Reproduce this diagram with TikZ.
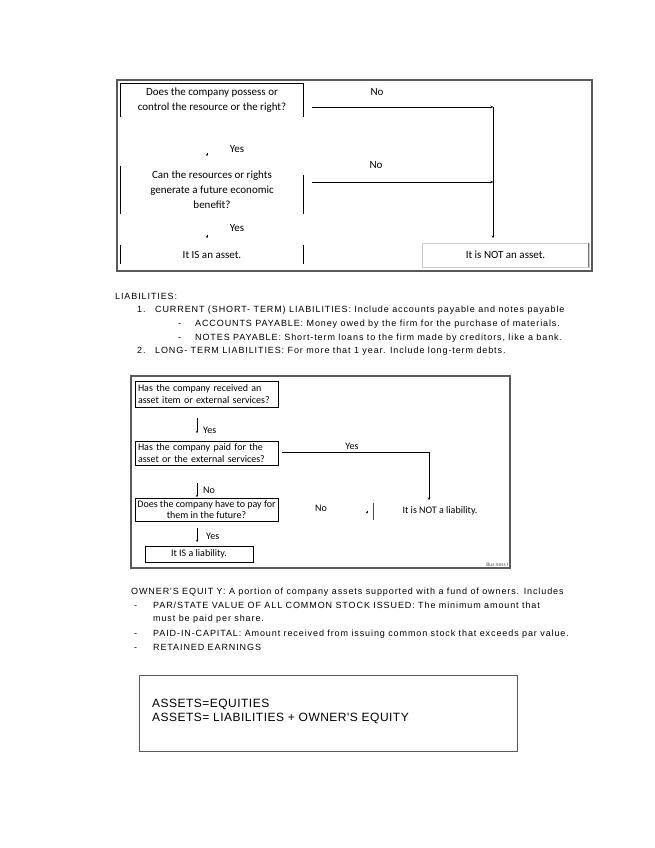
\documentclass[tikz,border=0pt]{standalone}
\usepackage{fontspec}
\setmainfont{Liberation Sans}
\newfontfamily\calfont{Carlito}
\newfontfamily\bodyfont[LetterSpace=10]{Liberation Sans}
\newfontfamily\eqfont[LetterSpace=4]{Liberation Sans}
\usetikzlibrary{arrows.meta}

\tikzset{
  frame/.style={draw=black!65, line width=1.2pt},
  qbox/.style={inner sep=0pt, align=center, font=\calfont\fontsize{11}{15}\selectfont},
  lbox/.style={draw, line width=0.7pt, inner sep=0pt, font=\calfont\fontsize{10}{11.5}\selectfont},
  lbl/.style={inner sep=0pt, font=\calfont\fontsize{11}{13}\selectfont},
  slbl/.style={inner sep=0pt, font=\calfont\fontsize{10}{12}\selectfont},
  body/.style={anchor=base west, inner sep=0pt, font=\bodyfont\fontsize{9}{11}\selectfont},
  flow/.style={-{Stealth[length=2.5pt,width=2.5pt]}, line width=0.6pt},
  tipmark/.style={-{Stealth[length=1.8pt,width=2.2pt]}, line width=0.35pt},
}

\begin{document}
\begin{tikzpicture}[x=1pt,y=-1pt]
    \useasboundingbox (0,0) rectangle (655,848);

    % asset test
    \draw[frame] (117,80) rectangle (592,271);
    \node[qbox, minimum width=182pt, minimum height=33pt] (q1) at (212,100.5) {Does the company possess or\\control the resource or the right?};
    \node[qbox, minimum width=182pt, minimum height=48pt] (q2) at (212,190) {Can the resources or rights\\generate a future economic\\benefit?};
    \node[qbox, minimum width=182pt, minimum height=18pt] (isasset) at (212,254.5) {It IS an asset.};
    \node[qbox, minimum width=166pt, minimum height=23pt] (notasset) at (505.5,255) {It is NOT an asset.};

    \draw[line width=0.7pt] (q1.south west) |- (q1.north east) -- (q1.south east);
    \draw[line width=0.7pt] (q2.north west) -- (q2.south west);
    \draw[line width=0.7pt] ([yshift=-9pt]q2.north east) -- (q2.south east);
    \draw[line width=0.7pt] (isasset.north west) -- (isasset.south west);
    \draw[line width=0.7pt] (isasset.north east) -- (isasset.south east);
    \draw[black!20] (notasset.south west) rectangle (notasset.north east);
    \draw[black!55, line width=1pt] (notasset.north east) -- (notasset.south east);

    \node[lbl] (no1) at (377,92) {No};
    \node[lbl] (no2) at (376,165) {No};
    \node[lbl] (yes1) at (237,149) {Yes};
    \node[lbl] (yes2) at (237,228) {Yes};

    \coordinate (j1) at (493,107);
    \coordinate (j2) at (493,182);
    \coordinate (e1) at (493,238);
    \draw[flow] ([xshift=9pt,yshift=-6.5pt]q1.east) -- (j1);
    \draw[flow] ([xshift=9pt,yshift=8pt]q2.east) -- (j2);
    \draw[flow] (j1) -- (e1);

    \coordinate (m1) at (207,153);
    \coordinate (m1e) at (207,156);
    \coordinate (m2) at (207,235);
    \coordinate (m2e) at (207,238);
    \draw[tipmark] (m1) -- (m1e);
    \draw[tipmark] (m2) -- (m2e);

    % liabilities text
    \node[body] (lia) at (115,299) {LIABILITIES:};
    \node[body] (n1) at (137,312) {1.};
    \node[body] (cur) at (155,312) {CURRENT (SHORT- TERM) LIABILITIES: Include accounts payable and notes payable};
    \node[body] (d1) at (178,326) {-};
    \node[body] (acc) at (195,326) {ACCOUNTS PAYABLE: Money owed by the firm for the purchase of materials.};
    \node[body] (d2) at (178,340) {-};
    \node[body] (notes) at (195,340) {NOTES PAYABLE: Short-term loans to the firm made by creditors, like a bank.};
    \node[body] (n2) at (137,353) {2.};
    \node[body] (long) at (155,353) {LONG- TERM LIABILITIES: For more that 1 year. Include long-term debts.};

    % liability test
    \draw[frame] (131,376) rectangle (510,568);
    \node[lbox, minimum width=143pt, minimum height=26pt, text width=137pt, align=left] (la) at (206.5,394) {Has the company received an\\asset item or external services?};
    \node[lbox, minimum width=143pt, minimum height=24pt, text width=137pt, align=left] (lb) at (206.5,453) {Has the company paid for the\\asset or the external services?};
    \node[lbox, minimum width=143pt, minimum height=23pt, align=center] (lc) at (206.5,509.5) {Does the company have to pay for\\them in the future?};
    \node[lbox, minimum width=108pt, minimum height=16pt] (ld) at (199,554) {It IS a liability.};
    \node[slbl] (notlia) at (440,511) {It is NOT a liability.};

    \node[slbl, anchor=west] (ya) at (203,430) {Yes};
    \node[slbl, anchor=west] (nb) at (203,490) {No};
    \node[slbl, anchor=west] (yc) at (206,536) {Yes};
    \node[slbl] (yb) at (352,446) {Yes};
    \node[slbl] (nc) at (321,508) {No};

    \coordinate (ta) at (197,418);
    \coordinate (tae) at (197,433);
    \coordinate (tb) at (197,483);
    \coordinate (tbe) at (197,497);
    \coordinate (tc) at (197,528);
    \coordinate (tce) at (197,542);
    \draw[tipmark] (ta) -- (tae);
    \draw[tipmark] (tb) -- (tbe);
    \draw[tipmark] (tc) -- (tce);

    \coordinate (k1) at (429,452);
    \coordinate (k1e) at (429,500);
    \draw[flow] ([xshift=4pt,yshift=1pt]lb.east) -- (k1) -- (k1e);
    \coordinate (mc) at (367,511);
    \coordinate (mce) at (367,513.5);
    \draw[tipmark] (mc) -- (mce);
    \draw[line width=0.7pt, black!70] (373,503) -- (373,520);

    \node[anchor=south east, inner sep=0.5pt, text=black!70, font=\calfont\fontsize{5.5}{6}\selectfont] (bus) at (509,567) {Bus ness I};

    % owner's equity text
    \node[body] (own) at (131,594) {OWNER'S EQUIT Y: A portion of company assets supported with a fund of owners. Includes};
    \node[body] (e1d) at (134,608) {-};
    \node[body] (par) at (153,608) {PAR/STATE VALUE OF ALL COMMON STOCK ISSUED: The minimum amount that};
    \node[body] (par2) at (153,621) {must be paid per share.};
    \node[body] (e2d) at (134,636) {-};
    \node[body] (paid) at (153,636) {PAID-IN-CAPITAL: Amount received from issuing common stock that exceeds par value.};
    \node[body] (e3d) at (134,650) {-};
    \node[body] (ret) at (153,650) {RETAINED EARNINGS};

    % equation box
    \draw[frame, line width=1pt] (139,675) rectangle (517,751);
    \node[body, font=\eqfont\fontsize{12}{14}\selectfont] (eq1) at (152,707) {ASSETS=EQUITIES};
    \node[body, font=\eqfont\fontsize{12}{14}\selectfont] (eq2) at (152,721) {ASSETS= LIABILITIES + OWNER'S EQUITY};
\end{tikzpicture}
\end{document}
